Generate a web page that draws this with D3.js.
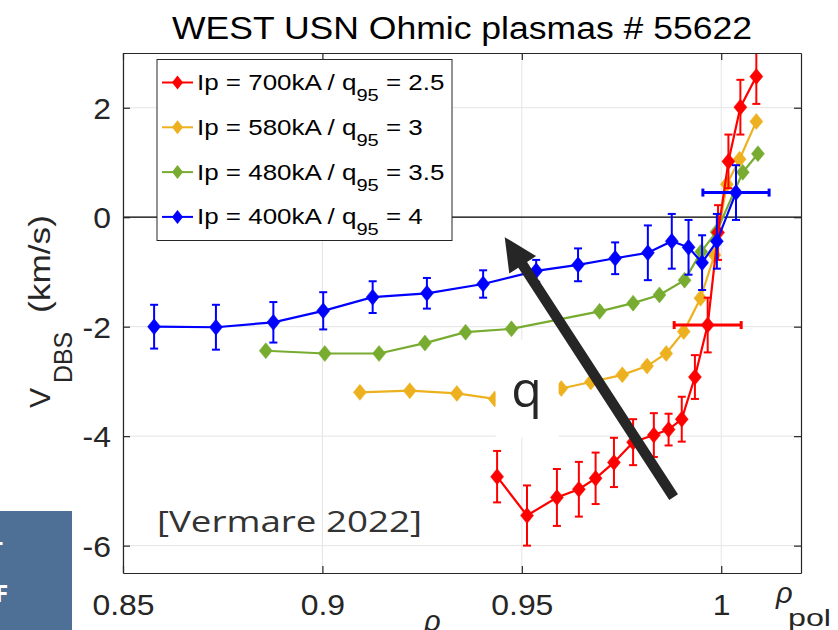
<!DOCTYPE html>
<html><head><meta charset="utf-8">
<script src="https://cdn.jsdelivr.net/npm/d3@7"></script>
<style>body{margin:0;background:#fff;overflow:hidden} svg{display:block}</style>
</head><body>
<script>
// ---------- data ----------
const xTicks = [0.85, 0.9, 0.95, 1];
const xTickLabels = ["0.85", "0.9", "0.95", "1"];
const yTicks = [-6, -4, -2, 0, 2];
const yTickLabels = ["-6", "-4", "-2", "0", "2"];

const seriesMain = ["Ip = 700kA / q", "Ip = 580kA / q", "Ip = 480kA / q", "Ip = 400kA / q"];
const seriesSub = ["95", "95", "95", "95"];
const seriesTail = [" = 2.5", " = 3", " = 3.5", " = 4"];
const seriesColors = ["#ff0000", "#edb120", "#77ac30", "#0000ff"];

// Ip = 700 kA
const redX   = [0.9438, 0.9513, 0.9588, 0.9643, 0.9685, 0.9731, 0.9779, 0.9831, 0.9868, 0.9901, 0.9934, 0.9966, 0.9992, 1.0018, 1.0048, 1.0088];
const redY   = [-4.74, -5.45, -5.12, -4.97, -4.77, -4.48, -4.11, -3.98, -3.88, -3.69, -2.92, -1.97, -0.28, 1.02, 2.01, 2.57];
const redErr = [0.47, 0.55, 0.52, 0.50, 0.47, 0.45, 0.42, 0.40, 0.29, 0.41, 0.40, 0.50, 0.50, 0.49, 0.50, 0.50];
const redXErrIndex = [11];
const redXErr = [0.0084];

// Ip = 580 kA
const orangeX = [0.9094, 0.9219, 0.9337, 0.9432, 0.9599, 0.9673, 0.9752, 0.9814, 0.9862, 0.9906, 0.9948, 0.9983, 1.0014, 1.0046, 1.0088];
const orangeY = [-3.20, -3.17, -3.22, -3.32, -3.13, -3.01, -2.88, -2.72, -2.49, -2.09, -1.48, -0.69, 0.60, 1.06, 1.75];

// Ip = 480 kA
const greenX = [0.8858, 0.9006, 0.9142, 0.9257, 0.9359, 0.9474, 0.9695, 0.9779, 0.9845, 0.9908, 0.9950, 0.9988, 1.0054, 1.0092];
const greenY = [-2.44, -2.49, -2.49, -2.30, -2.10, -2.04, -1.72, -1.57, -1.42, -1.15, -0.63, -0.27, 0.82, 1.16];

// Ip = 400 kA
const blueX   = [0.8578, 0.8733, 0.8877, 0.9002, 0.9126, 0.9262, 0.9403, 0.9536, 0.9641, 0.9734, 0.9816, 0.9876, 0.9918, 0.9952, 0.9989, 1.0037];
const blueY   = [-2.00, -2.01, -1.92, -1.71, -1.46, -1.39, -1.22, -0.98, -0.87, -0.75, -0.65, -0.44, -0.55, -0.83, -0.44, 0.45];
const blueErr = [0.40, 0.41, 0.37, 0.34, 0.29, 0.28, 0.25, 0.20, 0.30, 0.29, 0.50, 0.50, 0.50, 0.50, 0.50, 0.50];
const blueXErrIndex = [15];
const blueXErr = [0.0083];

// annotations (data coordinates)
const arrowTail = [0.98806, -5.114];
const arrowTip = [0.94571, -0.364];
const qText = "q";
const qPos = [0.9512, -3.46];
const citeText = "[Vermare 2022]";
const citePos = [0.8585, -5.75];
const titleText = "WEST USN Ohmic plasmas # 55622";

// ---------- setup ----------
const W = 838, H = 630;
const M = {l: 123, r: 801, t: 53, b: 573};
const FONT = "'Liberation Sans', Arial, Helvetica, sans-serif";
const FONT2 = "'Open Sans', Lato, sans-serif";
const AX = "#262626";

const svg = d3.select("body").append("svg").attr("width", W).attr("height", H);
svg.append("rect").attr("width", W).attr("height", H).attr("fill", "#fff");

const x = d3.scaleLinear().domain([0.85, 1.02]).range([M.l, M.r]);
const y = d3.scaleLinear().domain([-6.5, 3]).range([M.b, M.t]);

svg.append("clipPath").attr("id", "clip").append("rect")
  .attr("x", M.l).attr("y", M.t).attr("width", M.r - M.l).attr("height", M.b - M.t);

// grid
const grid = svg.append("g");
grid.selectAll(".gx").data(xTicks).join("line")
  .attr("x1", d => x(d)).attr("x2", d => x(d)).attr("y1", M.t).attr("y2", M.b)
  .attr("stroke", "#e4e4e4").attr("stroke-width", 1);
grid.selectAll(".gy").data(yTicks).join("line")
  .attr("x1", M.l).attr("x2", M.r).attr("y1", d => y(d)).attr("y2", d => y(d))
  .attr("stroke", "#e4e4e4").attr("stroke-width", 1);

const plot = svg.append("g").attr("clip-path", "url(#clip)");
// zero line
plot.append("line").attr("x1", x(0.85)).attr("x2", x(1.02)).attr("y1", y(0)).attr("y2", y(0))
  .attr("stroke", "#000").attr("stroke-width", 1.2);

const diamond = (cx, cy, hw, hh) => `M${cx},${cy - hh}L${cx + hw},${cy}L${cx},${cy + hh}L${cx - hw},${cy}Z`;

function drawSeries(xs, ys, errs, xErrIdx, xErrs, color) {
  const g = plot.append("g");
  const pts = xs.map((v, i) => ({x: v, y: ys[i], e: errs ? errs[i] : null}));
  g.append("path").datum(pts)
    .attr("d", d3.line().x(d => x(d.x)).y(d => y(d.y)))
    .attr("fill", "none").attr("stroke", color).attr("stroke-width", 2.2);
  if (errs) {
    const cap = 4;
    pts.forEach(d => {
      const xp = x(d.x), y1 = y(d.y + d.e), y2 = y(d.y - d.e);
      g.append("line").attr("x1", xp).attr("x2", xp).attr("y1", y1).attr("y2", y2)
        .attr("stroke", color).attr("stroke-width", 2);
      [y1, y2].forEach(yy => g.append("line").attr("x1", xp - cap).attr("x2", xp + cap)
        .attr("y1", yy).attr("y2", yy).attr("stroke", color).attr("stroke-width", 2));
    });
  }
  if (xErrIdx) {
    xErrIdx.forEach((idx, k) => {
      const d = pts[idx];
      const yp = y(d.y), x1 = x(d.x - xErrs[k]), x2 = x(d.x + xErrs[k]);
      g.append("line").attr("x1", x1).attr("x2", x2).attr("y1", yp).attr("y2", yp)
        .attr("stroke", color).attr("stroke-width", 3);
      [x1, x2].forEach(xx => g.append("line").attr("x1", xx).attr("x2", xx)
        .attr("y1", yp - 4).attr("y2", yp + 4).attr("stroke", color).attr("stroke-width", 3));
    });
  }
  g.selectAll(".m").data(pts).join("path")
    .attr("d", d => diamond(x(d.x), y(d.y), 6.5, 8))
    .attr("fill", color).attr("stroke", color).attr("stroke-width", 0.5);
}

drawSeries(orangeX, orangeY, null, null, null, seriesColors[1]);
drawSeries(greenX, greenY, null, null, null, seriesColors[2]);
drawSeries(redX, redY, redErr, redXErrIndex, redXErr, seriesColors[0]);
drawSeries(blueX, blueY, blueErr, blueXErrIndex, blueXErr, seriesColors[3]);

// ---------- axes ----------
const TK = 7;
function styleAxis(g) {
  g.select(".domain").attr("stroke", AX).attr("stroke-width", 1.2);
  g.selectAll(".tick line").attr("stroke", AX).attr("stroke-width", 1.2);
}
const ax = svg.append("g").attr("transform", `translate(0,${M.b})`)
  .call(d3.axisBottom(x).tickValues(xTicks).tickSizeInner(-TK).tickSizeOuter(0)
    .tickFormat((d, i) => xTickLabels[i]));
styleAxis(ax);
ax.selectAll(".tick text").attr("y", 42).attr("dy", 0)
  .attr("font-family", FONT).attr("font-size", 29).attr("fill", AX)
  .attr("transform", "scale(1.1,1)");
const axT = svg.append("g").attr("transform", `translate(0,${M.t})`)
  .call(d3.axisTop(x).tickValues(xTicks).tickSizeInner(-TK).tickSizeOuter(0).tickFormat(""));
styleAxis(axT);
const ay = svg.append("g").attr("transform", `translate(${M.l},0)`)
  .call(d3.axisLeft(y).tickValues(yTicks).tickSizeInner(-TK).tickSizeOuter(0)
    .tickFormat((d, i) => yTickLabels[i]));
styleAxis(ay);
ay.selectAll(".tick text").attr("x", -11).attr("dy", "0.36em")
  .attr("font-family", FONT).attr("font-size", 29).attr("fill", AX)
  .attr("transform", "scale(1.1,1)");
const ayR = svg.append("g").attr("transform", `translate(${M.r},0)`)
  .call(d3.axisRight(y).tickValues(yTicks).tickSizeInner(-TK).tickSizeOuter(0).tickFormat(""));
styleAxis(ayR);

// ---------- title ----------
svg.append("text").attr("x", 462).attr("y", 39).attr("text-anchor", "middle")
  .attr("font-family", FONT).attr("font-size", 31).attr("fill", "#000")
  .attr("textLength", 580).attr("lengthAdjust", "spacingAndGlyphs").text(titleText);

// ---------- y label ----------
const yl = svg.append("g").attr("transform", "translate(50,0) rotate(-90)");
yl.append("text").attr("x", -408).attr("y", 0).attr("font-family", FONT).attr("font-size", 29)
  .attr("fill", AX).attr("textLength", 20).attr("lengthAdjust", "spacingAndGlyphs").text("V");
yl.append("text").attr("x", -383).attr("y", 22).attr("font-family", FONT).attr("font-size", 25)
  .attr("fill", AX).attr("textLength", 51).attr("lengthAdjust", "spacingAndGlyphs").text("DBS");
yl.append("text").attr("x", -313).attr("y", 0).attr("font-family", FONT).attr("font-size", 29)
  .attr("fill", AX).attr("textLength", 98).attr("lengthAdjust", "spacingAndGlyphs").text("(km/s)");

// ---------- x label ----------
svg.append("text").attr("x", 776).attr("y", 603).attr("font-family", FONT).attr("font-style", "italic")
  .attr("font-size", 29).attr("fill", AX).text("ρ");
svg.append("text").attr("x", 788).attr("y", 626).attr("font-family", FONT)
  .attr("font-size", 24).attr("fill", AX).attr("textLength", 43).attr("lengthAdjust", "spacingAndGlyphs").text("pol");
svg.append("text").attr("x", 424).attr("y", 631).attr("font-family", FONT).attr("font-style", "italic")
  .attr("font-size", 29).attr("fill", AX).text("ρ");

// ---------- legend ----------
const lg = svg.append("g");
lg.append("rect").attr("x", 157).attr("y", 59.5).attr("width", 295).attr("height", 181)
  .attr("fill", "#fff").attr("stroke", AX).attr("stroke-width", 1);
const rowY = i => 82.5 + i * 44.8;
seriesMain.forEach((s, i) => {
  const cy = rowY(i);
  lg.append("line").attr("x1", 162).attr("x2", 193).attr("y1", cy).attr("y2", cy)
    .attr("stroke", seriesColors[i]).attr("stroke-width", 2);
  lg.append("path").attr("d", diamond(177.5, cy, 5.5, 7)).attr("fill", seriesColors[i]);
  const t = lg.append("text").attr("transform", `translate(197,${cy + 7.5}) scale(1.18,1)`)
    .attr("font-family", FONT).attr("font-size", 22).attr("fill", "#000");
  t.append("tspan").text(s);
  t.append("tspan").attr("dy", 11).attr("font-size", 17).text(seriesSub[i]);
  t.append("tspan").attr("dy", -11).text(seriesTail[i]);
});

// ---------- annotations ----------
// arrow
(function () {
  const tx = x(arrowTail[0]), ty = y(arrowTail[1]);
  const hx = x(arrowTip[0]), hy = y(arrowTip[1]);
  const L = Math.hypot(hx - tx, hy - ty);
  const ux = (hx - tx) / L, uy = (hy - ty) / L;
  const px = -uy, py = ux;
  const headL = 33, headW = 16, shaftW = 5.2;
  const bx = hx - ux * headL, by = hy - uy * headL;
  const P = [
    [tx + px * shaftW, ty + py * shaftW],
    [bx + px * shaftW, by + py * shaftW],
    [bx + px * headW, by + py * headW],
    [hx, hy],
    [bx - px * headW, by - py * headW],
    [bx - px * shaftW, by - py * shaftW],
    [tx - px * shaftW, ty - py * shaftW]
  ];
  svg.append("path").attr("d", "M" + P.map(p => p.join(",")).join("L") + "Z").attr("fill", "#262626");
})();

// q label with white box
(function () {
  const qx = x(qPos[0]), qy = y(qPos[1]);
  svg.append("rect").attr("x", qx - 31).attr("y", qy - 67).attr("width", 63).attr("height", 98).attr("fill", "#fff");
  svg.append("text").attr("x", qx).attr("y", qy).attr("text-anchor", "middle")
    .attr("font-family", FONT2).attr("font-size", 50).attr("fill", "#262626").text(qText);
})();

svg.append("text").attr("x", x(citePos[0])).attr("y", y(citePos[1]))
  .attr("font-family", FONT2).attr("font-size", 30).attr("fill", "#333")
  .attr("textLength", 265).attr("lengthAdjust", "spacingAndGlyphs").text(citeText);

// side panel fragment
svg.append("rect").attr("x", 0).attr("y", 511).attr("width", 72).attr("height", 119).attr("fill", "#4f7096");
svg.append("text").attr("x", -4).attr("y", 559).attr("text-anchor", "middle").attr("font-family", FONT2)
  .attr("font-weight", "bold").attr("font-size", 24).attr("fill", "#fff").text("T");
svg.append("text").attr("x", -5).attr("y", 602).attr("font-family", FONT2)
  .attr("font-weight", "bold").attr("font-size", 24).attr("fill", "#fff").text("F");
</script>
</body></html>
